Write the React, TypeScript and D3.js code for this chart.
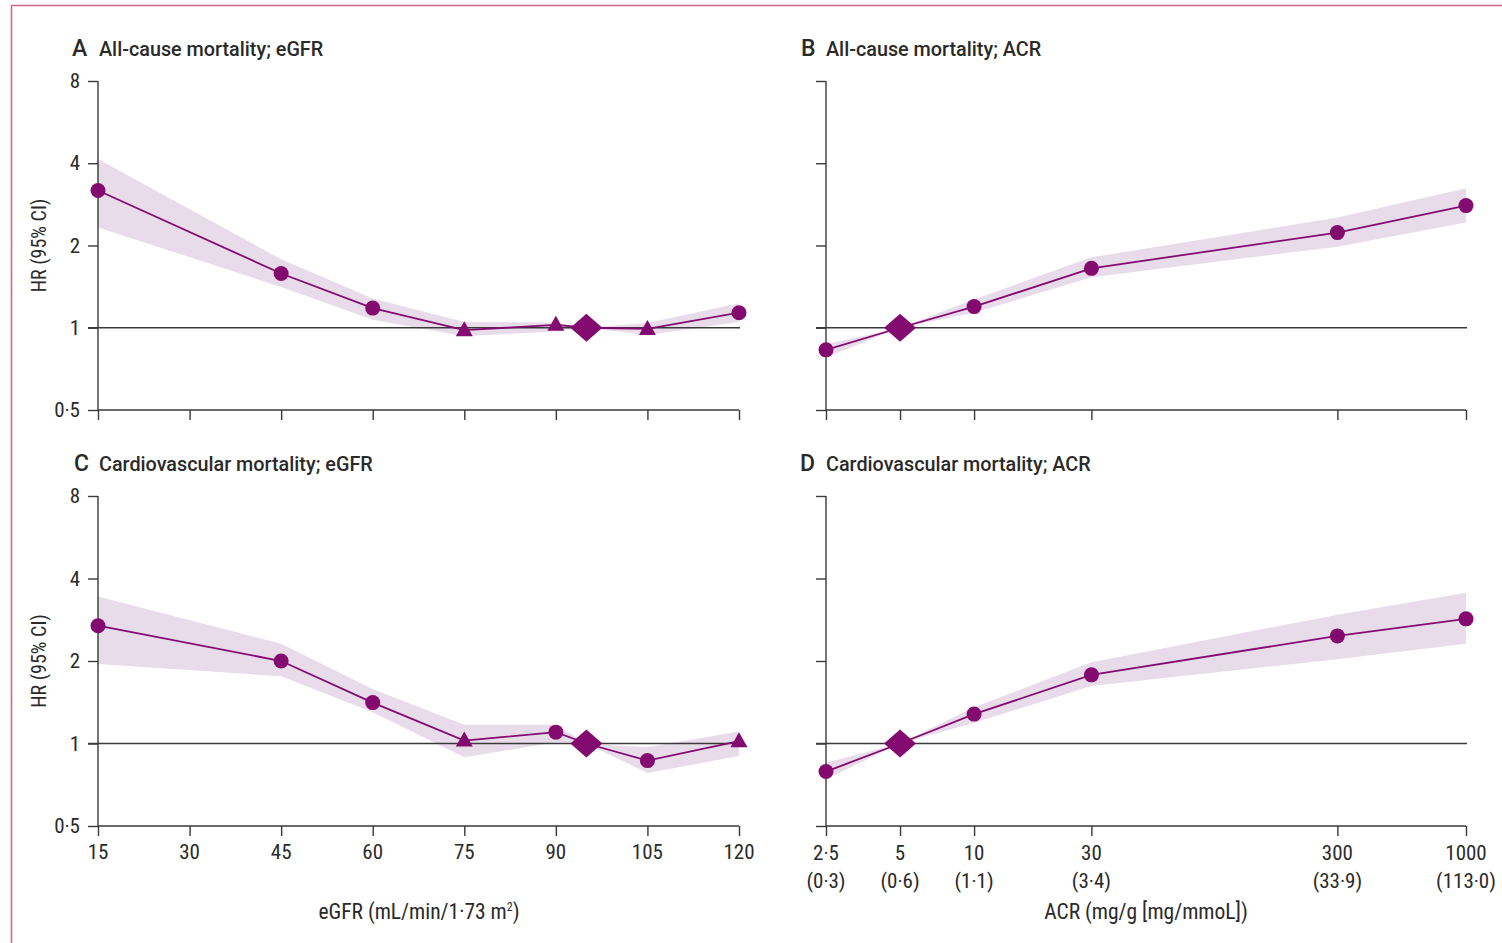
import React, { useEffect, useRef } from "react";
import * as d3 from "d3";

// ---------- data ----------
const egfrX = [15, 45, 60, 75, 90, 95, 105, 120];
const egfrTicks = [15, 30, 45, 60, 75, 90, 105, 120];
const egfrTickLabels = ["15", "30", "45", "60", "75", "90", "105", "120"];

const acrX = [2.5, 5, 10, 30, 300, 1000];
const acrTicks = [2.5, 5, 10, 30, 300, 1000];
const acrTickLabels = ["2·5", "5", "10", "30", "300", "1000"];
const acrTickLabels2 = ["(0·3)", "(0·6)", "(1·1)", "(3·4)", "(33·9)", "(113·0)"];

const yTicks = [0.5, 1, 2, 4, 8];
const yTickLabels = ["0·5", "1", "2", "4", "8"];

// Panel A: all-cause mortality, eGFR
const aHR = [3.18, 1.58, 1.18, 0.98, 1.025, 1, 0.99, 1.135];
const aLo = [2.33, 1.41, 1.07, 0.93, 0.97, 1, 0.94, 1.05];
const aHi = [4.15, 1.78, 1.28, 1.05, 1.045, 1, 1.04, 1.23];
const aMarkers = ["circle", "circle", "circle", "triangle", "triangle", "diamond", "triangle", "circle"];

// Panel B: all-cause mortality, ACR
const bHR = [0.83, 1, 1.195, 1.65, 2.23, 2.8];
const bLo = [0.78, 1, 1.135, 1.53, 1.98, 2.43];
const bHi = [0.87, 1, 1.27, 1.81, 2.53, 3.24];
const bMarkers = ["circle", "diamond", "circle", "circle", "circle", "circle"];

// Panel C: cardiovascular mortality, eGFR
const cHR = [2.69, 2.0, 1.41, 1.025, 1.1, 1, 0.866, 1.02];
const cLo = [1.95, 1.76, 1.3, 0.89, 1.01, 1, 0.78, 0.9];
const cHi = [3.44, 2.31, 1.58, 1.17, 1.17, 1, 0.97, 1.106];
const cMarkers = ["circle", "circle", "circle", "triangle", "circle", "diamond", "circle", "triangle"];

// Panel D: cardiovascular mortality, ACR
const dHR = [0.79, 1, 1.28, 1.78, 2.47, 2.85];
const dLo = [0.74, 1, 1.19, 1.62, 2.03, 2.31];
const dHi = [0.85, 1, 1.355, 1.98, 2.95, 3.55];
const dMarkers = ["circle", "diamond", "circle", "circle", "circle", "circle"];

const panelLetters = ["A", "B", "C", "D"];
const panelTitles = [
  "All-cause mortality; eGFR",
  "All-cause mortality; ACR",
  "Cardiovascular mortality; eGFR",
  "Cardiovascular mortality; ACR",
];

// ---------- style ----------
const W = 1502;
const H = 943;
const PURPLE = "#830b6f";
const BAND = "#e8dcea";
const AXIS = "#3a3a3a";
const TEXT = "#2a2a2a";
const FONT = "'Liberation Sans Narrow', 'Roboto Condensed', Roboto, sans-serif";
const TFONT = "Roboto, 'Noto Sans', sans-serif";
const TICK_FS = 21;

export default function App() {
  const ref = useRef<SVGSVGElement | null>(null);

  useEffect(() => {
    document.body.style.margin = "0";
    const svg = d3.select(ref.current);
    svg.selectAll("*").remove();

    // border
    svg
      .append("path")
      .attr("d", `M11.5,${H} L11.5,5.5 L${W},5.5`)
      .attr("fill", "none")
      .attr("stroke", "#d4668a")
      .attr("stroke-width", 1.6);

    const xE = d3.scaleLinear().domain([15, 120]).range([98, 739]);
    const xA = d3.scaleLog().domain([2.5, 1000]).range([826, 1466]);
    const yTop = d3.scaleLog().base(2).domain([0.5, 8]).range([410, 81]);
    const yBot = d3.scaleLog().base(2).domain([0.5, 8]).range([826, 496]);

    type Panel = {
      x: any;
      y: any;
      xs: number[];
      hr: number[];
      lo: number[];
      hi: number[];
      markers: string[];
      ticks: number[];
      showYLabels: boolean;
      showXLabels: boolean;
      kind: "egfr" | "acr";
      letterX: number;
      titleX: number;
      titleY: number;
    };

    const panels: Panel[] = [
      { x: xE, y: yTop, xs: egfrX, hr: aHR, lo: aLo, hi: aHi, markers: aMarkers, ticks: egfrTicks, showYLabels: true, showXLabels: false, kind: "egfr", letterX: 72, titleX: 99, titleY: 56 },
      { x: xA, y: yTop, xs: acrX, hr: bHR, lo: bLo, hi: bHi, markers: bMarkers, ticks: acrTicks, showYLabels: false, showXLabels: false, kind: "acr", letterX: 801, titleX: 826, titleY: 56 },
      { x: xE, y: yBot, xs: egfrX, hr: cHR, lo: cLo, hi: cHi, markers: cMarkers, ticks: egfrTicks, showYLabels: true, showXLabels: true, kind: "egfr", letterX: 74, titleX: 99, titleY: 471 },
      { x: xA, y: yBot, xs: acrX, hr: dHR, lo: dLo, hi: dHi, markers: dMarkers, ticks: acrTicks, showYLabels: false, showXLabels: true, kind: "acr", letterX: 800, titleX: 826, titleY: 471 },
    ];

    panels.forEach((p, pi) => {
      const g = svg.append("g");
      const [x0, x1] = p.x.range();
      const [yb, yt] = p.y.range();

      // title
      g.append("text")
        .attr("x", p.letterX)
        .attr("y", p.titleY)
        .attr("font-family", TFONT)
        .attr("font-size", 23)
        .attr("font-weight", 500)
        .attr("fill", TEXT)
        .text(panelLetters[pi]);
      g.append("text")
        .attr("x", p.titleX)
        .attr("y", p.titleY)
        .attr("font-family", TFONT)
        .attr("font-size", 19.8)
        .attr("font-weight", 500)
        .attr("fill", TEXT)
        .text(panelTitles[pi]);

      // CI band
      const idx = d3.range(p.xs.length);
      const area = d3
        .area<number>()
        .x((i) => p.x(p.xs[i]))
        .y0((i) => p.y(p.lo[i]))
        .y1((i) => p.y(p.hi[i]));
      g.append("path").attr("d", area(idx)).attr("fill", BAND).attr("stroke", "none");

      // y axis
      const yAxis = d3.axisLeft(p.y).tickValues(yTicks).tickSize(10).tickFormat((d: any) => (p.showYLabels ? yTickLabels[yTicks.indexOf(d)] : ""));
      const ya = g.append("g").attr("transform", `translate(${x0},0)`).call(yAxis as any);
      ya.select(".domain").remove();
      ya.selectAll(".tick line").attr("stroke", AXIS).attr("stroke-width", 1.4);
      ya.selectAll(".tick text").attr("font-family", FONT).attr("font-size", TICK_FS).attr("fill", TEXT).attr("x", -18);
      g.append("line").attr("x1", x0).attr("x2", x0).attr("y1", yt).attr("y2", yb).attr("stroke", AXIS).attr("stroke-width", 1.4);

      // reference line at HR = 1
      g.append("line")
        .attr("x1", x0 - 10)
        .attr("x2", x1 + 1)
        .attr("y1", p.y(1))
        .attr("y2", p.y(1))
        .attr("stroke", AXIS)
        .attr("stroke-width", 1.4);

      // x axis
      const xAxis = d3.axisBottom(p.x).tickValues(p.ticks).tickSize(10).tickFormat(() => "");
      const xa = g.append("g").attr("transform", `translate(0,${yb})`).call(xAxis as any);
      xa.select(".domain").remove();
      xa.selectAll(".tick line").attr("stroke", AXIS).attr("stroke-width", 1.4);
      g.append("line").attr("x1", x0).attr("x2", x1).attr("y1", yb).attr("y2", yb).attr("stroke", AXIS).attr("stroke-width", 1.4);

      if (p.showXLabels) {
        if (p.kind === "egfr") {
          egfrTicks.forEach((t, i) => {
            g.append("text")
              .attr("x", p.x(t))
              .attr("y", yb + 33)
              .attr("text-anchor", "middle")
              .attr("font-family", FONT)
              .attr("font-size", TICK_FS)
              .attr("fill", TEXT)
              .text(egfrTickLabels[i]);
          });
        } else {
          acrTicks.forEach((t, i) => {
            g.append("text")
              .attr("x", p.x(t))
              .attr("y", yb + 34)
              .attr("text-anchor", "middle")
              .attr("font-family", FONT)
              .attr("font-size", TICK_FS)
              .attr("fill", TEXT)
              .text(acrTickLabels[i]);
            g.append("text")
              .attr("x", p.x(t))
              .attr("y", yb + 62)
              .attr("text-anchor", "middle")
              .attr("font-family", FONT)
              .attr("font-size", TICK_FS)
              .attr("fill", TEXT)
              .text(acrTickLabels2[i]);
          });
        }
      }

      // y label
      if (p.showYLabels) {
        const cy = (yt + yb) / 2;
        g.append("text")
          .attr("transform", `translate(46,${cy}) rotate(-90)`)
          .attr("text-anchor", "middle")
          .attr("font-family", FONT)
          .attr("font-size", 20)
          .attr("fill", TEXT)
          .text("HR (95% CI)");
      }

      // line
      const line = d3
        .line<number>()
        .x((i) => p.x(p.xs[i]))
        .y((i) => p.y(p.hr[i]));
      g.append("path").attr("d", line(idx)).attr("fill", "none").attr("stroke", PURPLE).attr("stroke-width", 1.8);

      // markers
      idx.forEach((i) => {
        const cx = p.x(p.xs[i]);
        const cy = p.y(p.hr[i]);
        const m = p.markers[i];
        if (m === "circle") {
          g.append("circle").attr("cx", cx).attr("cy", cy).attr("r", 7.5).attr("fill", PURPLE);
        } else if (m === "triangle") {
          g.append("path")
            .attr("d", `M${cx},${cy - 9} L${cx + 8.5},${cy + 6} L${cx - 8.5},${cy + 6} Z`)
            .attr("fill", PURPLE);
        } else {
          g.append("path")
            .attr("d", `M${cx},${cy - 14} L${cx + 16},${cy} L${cx},${cy + 14} L${cx - 16},${cy} Z`)
            .attr("fill", PURPLE);
        }
      });
    });

    // x axis titles
    const egfrLabel = svg
      .append("text")
      .attr("x", 419)
      .attr("y", 919)
      .attr("text-anchor", "middle")
      .attr("font-family", FONT)
      .attr("font-size", 21.5)
      .attr("fill", TEXT);
    egfrLabel.append("tspan").text("eGFR (mL/min/1·73 m");
    egfrLabel.append("tspan").attr("dy", -8).attr("font-size", 12).text("2");
    egfrLabel.append("tspan").attr("dy", 8).text(")");

    svg
      .append("text")
      .attr("x", 1146)
      .attr("y", 919)
      .attr("text-anchor", "middle")
      .attr("font-family", FONT)
      .attr("font-size", 21.5)
      .attr("fill", TEXT)
      .text("ACR (mg/g [mg/mmoL])");
  }, []);

  return (
    <svg
      ref={ref}
      width={W}
      height={H}
      style={{ position: "absolute", left: 0, top: 0, background: "#fff" }}
    />
  );
}
